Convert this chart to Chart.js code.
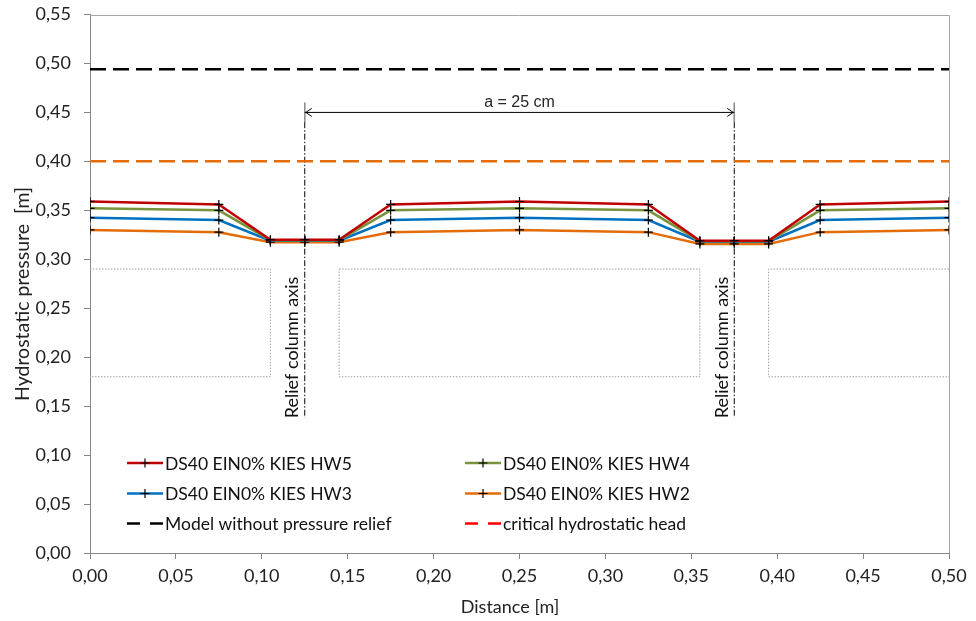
<!DOCTYPE html>
<html>
<head>
<meta charset="utf-8">
<script src="https://cdn.jsdelivr.net/npm/chart.js@4.4.1/dist/chart.umd.min.js"></script>
<style>
  html, body { margin: 0; padding: 0; background: #fff; }
</style>
</head>
<body>
<canvas id="graficoPressao" width="976" height="621"></canvas>
<script>
// dados
const distancia = [0, 0.075, 0.105, 0.125, 0.145, 0.175, 0.25, 0.325, 0.355, 0.375, 0.395, 0.425, 0.5]
const hw5 = [0.359, 0.356, 0.320, 0.320, 0.320, 0.356, 0.359, 0.356, 0.319, 0.319, 0.319, 0.356, 0.359]
const hw4 = [0.352, 0.350, 0.3195, 0.3195, 0.3195, 0.350, 0.352, 0.350, 0.3185, 0.3185, 0.3185, 0.350, 0.352]
const hw3 = [0.3425, 0.340, 0.319, 0.319, 0.319, 0.340, 0.3425, 0.340, 0.318, 0.318, 0.318, 0.340, 0.3425]
const hw2 = [0.330, 0.3277, 0.3175, 0.3175, 0.3175, 0.3277, 0.330, 0.3277, 0.3157, 0.3157, 0.3157, 0.3277, 0.330]

const semAlivio = 0.494      // Model without pressure relief
const criticoH = 0.40        // critical hydrostatic head

// caixas pontilhadas (x, y)
const caixaEsqX = [0, 0.105, 0.105, 0]
const caixaEsqY = [0.29, 0.29, 0.18, 0.18]
const caixaMeioX = [0.145, 0.355, 0.355, 0.145, 0.145]
const caixaMeioY = [0.29, 0.29, 0.18, 0.18, 0.29]
const caixaDirX = [0.5, 0.395, 0.395, 0.5]
const caixaDirY = [0.29, 0.29, 0.18, 0.18]

// eixos das colunas de alivio e cota
const eixosColuna = [0.125, 0.375]
const eixoTopo = 0.44
const eixoBase = 0.138
const cotaY = 0.45
const cotaTopo = 0.46
const cotaTexto = 'a = 25 cm'

const legendaItens = [
  { label: 'DS40 EIN0% KIES HW5', cor: '#C00000', tipo: 'serie' },
  { label: 'DS40 EIN0% KIES HW4', cor: '#77933C', tipo: 'serie' },
  { label: 'DS40 EIN0% KIES HW3', cor: '#0070C0', tipo: 'serie' },
  { label: 'DS40 EIN0% KIES HW2', cor: '#E46C0A', tipo: 'serie' },
  { label: 'Model without pressure relief', cor: '#000000', tipo: 'tracejado' },
  { label: 'critical hydrostatic head', cor: '#FF0000', tipo: 'tracejado' }
]

const pts = (xs, ys) => xs.map((v, i) => ({ x: v, y: ys[i] }))
const virgula = v => Number(v).toFixed(2).replace('.', ',')

function serie(label, ys, cor) {
  return {
    label: label,
    data: pts(distancia, ys),
    borderColor: cor,
    backgroundColor: cor,
    borderWidth: 2.5,
    pointStyle: 'cross',
    pointRadius: 4.5,
    pointBorderColor: '#000',
    pointBorderWidth: 1.2,
    tension: 0
  }
}

function linha(data, cor, largura, dash) {
  return {
    data: data,
    borderColor: cor,
    borderWidth: largura,
    borderDash: dash,
    pointRadius: 0,
    pointHoverRadius: 0,
    fill: false
  }
}

const datasets = [
  serie('DS40 EIN0% KIES HW5', hw5, '#C00000'),
  serie('DS40 EIN0% KIES HW4', hw4, '#77933C'),
  serie('DS40 EIN0% KIES HW3', hw3, '#0070C0'),
  serie('DS40 EIN0% KIES HW2', hw2, '#E46C0A'),
  linha(pts([0, 0.5], [semAlivio, semAlivio]), '#000', 2.5, [16, 7]),
  linha(pts([0, 0.5], [criticoH, criticoH]), '#E46C0A', 2.5, [16, 7]),
  linha(pts(caixaEsqX, caixaEsqY), '#A0A0A0', 1, [1.5, 1.5]),
  linha(pts(caixaMeioX, caixaMeioY), '#A0A0A0', 1, [1.5, 1.5]),
  linha(pts(caixaDirX, caixaDirY), '#A0A0A0', 1, [1.5, 1.5]),
  linha(pts(eixosColuna, [cotaY, cotaY]), '#000', 1, []),
]
eixosColuna.forEach(xc => {
  datasets.push(linha(pts([xc, xc], [eixoTopo, eixoBase]), '#000', 1, [6, 2, 1.5, 2]))
  datasets.push(linha(pts([xc, xc], [cotaTopo, eixoTopo]), '#8C8C8C', 1, []))
})

const extras = {
  id: 'extras',
  beforeDatasetsDraw(chart) {
    const { ctx, chartArea: a } = chart
    ctx.save()
    ctx.strokeStyle = '#A6A6A6'
    ctx.lineWidth = 1
    ctx.beginPath()
    ctx.moveTo(a.left, Math.round(a.top) + 0.5)
    ctx.lineTo(Math.round(a.right) + 0.5, Math.round(a.top) + 0.5)
    ctx.lineTo(Math.round(a.right) + 0.5, a.bottom)
    ctx.stroke()
    ctx.restore()
  },
  afterDatasetsDraw(chart) {
    const { ctx, chartArea: a, scales: { x, y } } = chart
    ctx.save()
    // pontas da cota
    const ay = y.getPixelForValue(cotaY)
    const x1 = x.getPixelForValue(eixosColuna[0])
    const x2 = x.getPixelForValue(eixosColuna[1])
    ctx.strokeStyle = '#000'
    ctx.lineWidth = 1
    ctx.beginPath()
    ctx.moveTo(x1 + 7, ay - 4); ctx.lineTo(x1 + 1, ay); ctx.lineTo(x1 + 7, ay + 4)
    ctx.moveTo(x2 - 7, ay - 4); ctx.lineTo(x2 - 1, ay); ctx.lineTo(x2 - 7, ay + 4)
    ctx.stroke()
    ctx.fillStyle = '#262626'
    ctx.font = '16px "Liberation Sans", Arial, sans-serif'
    ctx.textAlign = 'center'
    ctx.textBaseline = 'alphabetic'
    ctx.fillText(cotaTexto, (x1 + x2) / 2, ay - 5)

    // Relief column axis
    ctx.font = '18px Lato, sans-serif'
    ctx.fillStyle = '#111'
    eixosColuna.forEach(xc => {
      const px = x.getPixelForValue(xc) - 12.5
      const py = y.getPixelForValue(0.21)
      ctx.save()
      ctx.translate(px, py)
      ctx.rotate(-Math.PI / 2)
      ctx.textAlign = 'center'
      ctx.textBaseline = 'middle'
      ctx.fillText('Relief column axis', 0, 0)
      ctx.restore()
    })

    // titulos dos eixos
    ctx.fillStyle = '#222'
    ctx.font = '18px Lato, sans-serif'
    ctx.textAlign = 'center'
    ctx.textBaseline = 'middle'
    ctx.fillText('Distance [m]', 510, 607)
    ctx.save()
    ctx.translate(23, 294)
    ctx.rotate(-Math.PI / 2)
    ctx.font = '19.5px Lato, sans-serif'
    ctx.fillText('Hydrostatic pressure  [m]', 0, 0)
    ctx.restore()

    // legenda
    const colX = [127, 465]
    const linY = [463, 493.5, 523.5]
    ctx.font = '17.5px Lato, sans-serif'
    ctx.textAlign = 'left'
    ctx.textBaseline = 'middle'
    legendaItens.forEach((it, i) => {
      const lx = colX[i % 2]
      const ly = linY[Math.floor(i / 2)]
      ctx.strokeStyle = it.cor
      ctx.lineWidth = 2.5
      ctx.beginPath()
      if (it.tipo === 'serie') {
        ctx.moveTo(lx, ly); ctx.lineTo(lx + 36, ly)
        ctx.stroke()
        ctx.strokeStyle = '#000'
        ctx.lineWidth = 1.2
        ctx.beginPath()
        ctx.moveTo(lx + 18 - 4.5, ly); ctx.lineTo(lx + 18 + 4.5, ly)
        ctx.moveTo(lx + 18, ly - 4.5); ctx.lineTo(lx + 18, ly + 4.5)
        ctx.stroke()
      } else {
        ctx.moveTo(lx, ly); ctx.lineTo(lx + 13, ly)
        ctx.moveTo(lx + 23, ly); ctx.lineTo(lx + 36, ly)
        ctx.stroke()
      }
      ctx.fillStyle = '#111'
      ctx.fillText(it.label, lx + 38, ly + 1)
    })
    ctx.restore()
  }
}

Chart.defaults.font.family = 'Lato, sans-serif'
Chart.defaults.font.size = 18
Chart.defaults.color = '#222'

const ctx = document.getElementById('graficoPressao').getContext('2d')
const graph = new Chart(ctx, {
  type: 'line',
  data: { datasets: datasets },
  options: {
    responsive: false,
    animation: false,
    layout: { padding: { top: 14.5, right: 27, left: 0, bottom: 0 } },
    plugins: {
      legend: { display: false },
      tooltip: { enabled: false }
    },
    scales: {
      x: {
        type: 'linear',
        min: 0,
        max: 0.5,
        afterFit: s => { s.height = 68; s.paddingLeft = 0; s.paddingRight = 0 },
        ticks: { stepSize: 0.05, maxTicksLimit: 20, autoSkip: false, maxRotation: 0, padding: 6, callback: virgula },
        grid: { drawOnChartArea: false, drawTicks: true, tickLength: 6, color: '#868686' },
        border: { color: '#868686' }
      },
      y: {
        min: 0,
        max: 0.55,
        afterFit: s => { s.width = 90; s.paddingTop = 0; s.paddingBottom = 0 },
        ticks: { stepSize: 0.05, maxTicksLimit: 20, autoSkip: false, padding: 13, callback: virgula },
        grid: { drawOnChartArea: false, drawTicks: true, tickLength: 6, color: '#868686' },
        border: { color: '#868686' }
      }
    }
  },
  plugins: [extras]
})
</script>
</body>
</html>
